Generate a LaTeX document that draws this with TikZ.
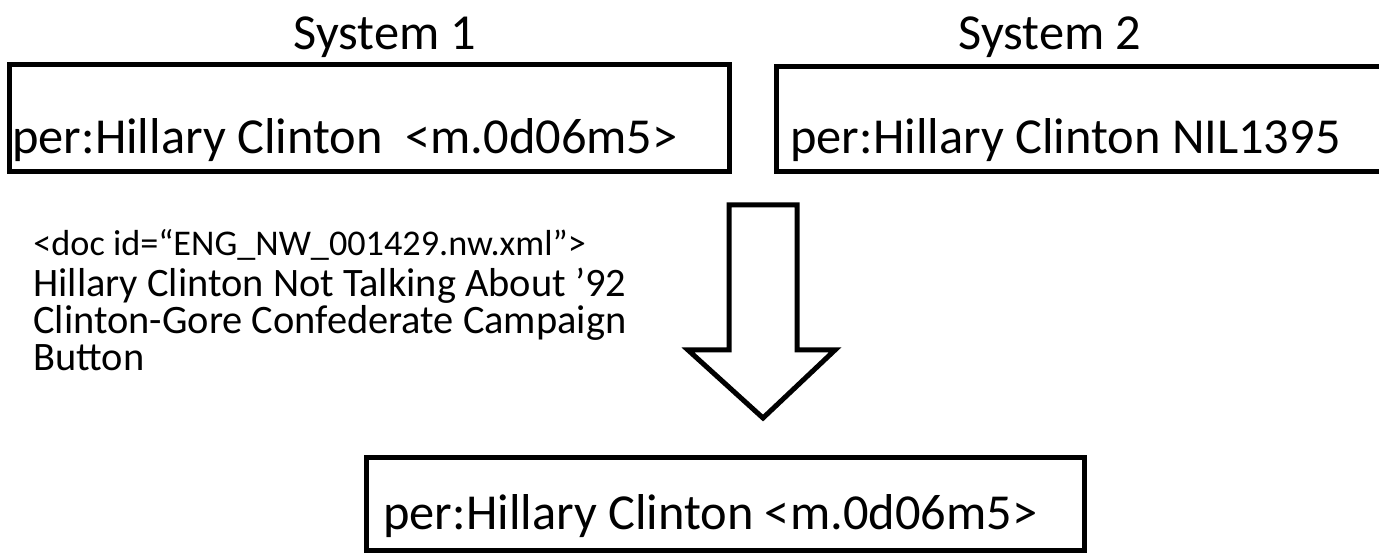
\documentclass[tikz,border=0pt]{standalone}
\usepackage{fontspec}
\setmainfont{Carlito}
\usetikzlibrary{fit}
\begin{document}
\begin{tikzpicture}[x=0.5bp,y=-0.5bp,
  frame/.style={draw=black, line width=2.5bp, inner sep=0pt},
  title/.style={font=\fontsize{25.2bp}{30bp}\selectfont, inner sep=0pt, anchor=base},
  entity/.style={font=\fontsize{25.2bp}{30bp}\selectfont, inner sep=0pt, anchor=base west},
  body/.style={font=\fontsize{20.2bp}{24bp}\selectfont, inner sep=0pt, anchor=base west},
  docid/.style={font=\fontsize{18.1bp}{22bp}\selectfont, inner sep=0pt, anchor=base west},
  blockarrow/.style={draw=black, line width=2.5bp, fill=white, line join=miter}]
\useasboundingbox (0,0) rectangle (1379,556);
\clip (0,0) rectangle (1379,556);

% system headings
\node[title] (t1) at (385,50) {System 1};
\node[title] (t2) at (1050,50) {System 2};

% output of each system
\node[frame, fit={(9,65) (729,172)}] (box1) {};
\node[entity] (e1) at (12,154) {per:Hillary Clinton~~<m.0d06m5>};
\node[frame, fit={(776,67) (1400,172)}] (box2) {};
\node[entity] (e2) at (790,154) {per:Hillary Clinton NIL1395};

% source document
\node[docid] (doc) at (33,256) {<doc id=“ENG\_NW\_001429.nw.xml”>};
\node[body] (l1) at (33,297) {Hillary Clinton Not Talking About ’92};
\node[body] (l2) at (33,334) {Clinton-Gore Confederate Campaign};
\node[body] (l3) at (33,371) {Button};

% block arrow towards the merged result
\coordinate (atop) at (763,205);
\coordinate (atip) at (763,418);
\draw[blockarrow] (atop) ++(-34,0) -- ++(68,0) -- ++(0,145)
  -- ++(38,0) -- (atip) -- ++(-75,-68) -- ++(41,0) -- cycle;

% merged result
\node[frame, fit={(366,457) (1084,550)}] (box3) {};
\node[entity] (e3) at (383,529) {per:Hillary Clinton <m.0d06m5>};
\end{tikzpicture}
\end{document}
